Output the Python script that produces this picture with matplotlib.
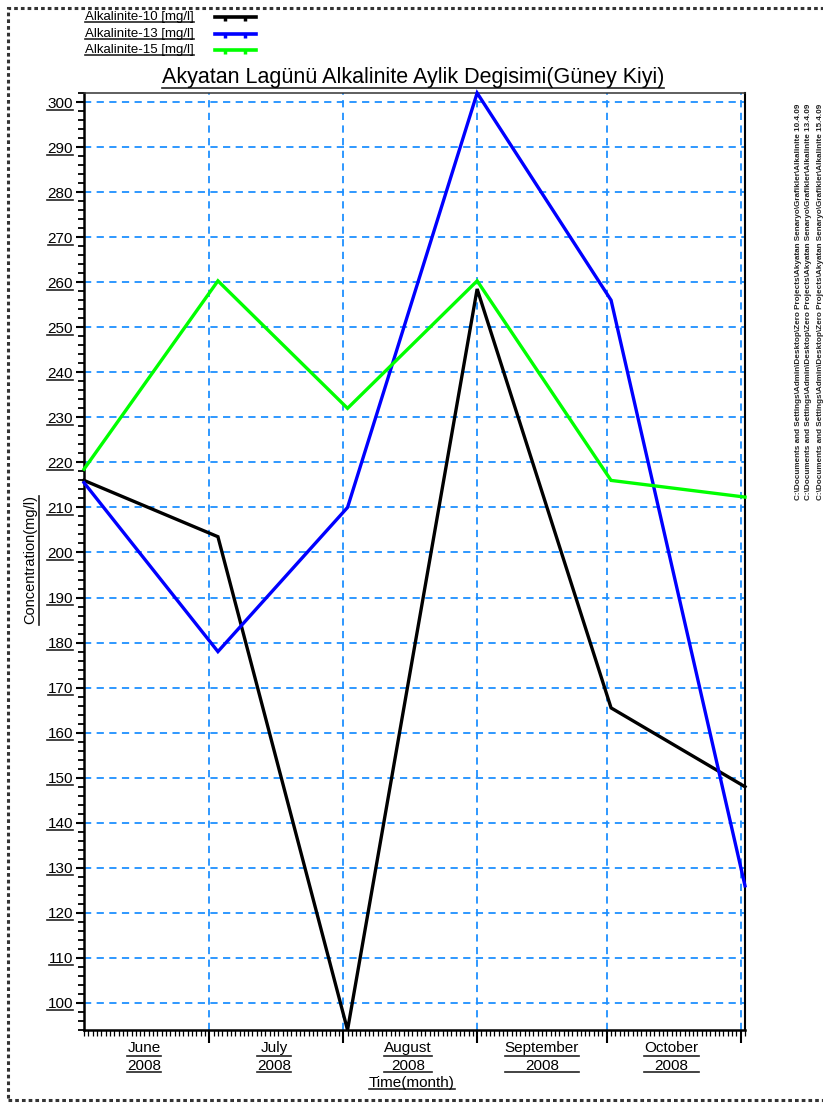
import matplotlib
matplotlib.use("Agg")
import matplotlib.pyplot as plt
import matplotlib.dates as mdates
from matplotlib.lines import Line2D
from matplotlib.patches import Rectangle
from matplotlib.ticker import MultipleLocator
import datetime as dt

plt.rcParams['font.family'] = ['Liberation Sans', 'DejaVu Sans']

# Sampling dates (one per month)
dates = [dt.date(2008, 6, 2), dt.date(2008, 7, 3), dt.date(2008, 8, 2),
         dt.date(2008, 9, 1), dt.date(2008, 10, 2), dt.date(2008, 11, 2)]

# Alkalinity at three stations (mg/l)
alk10 = [216, 203.5, 94, 258.5, 165.5, 148]
alk13 = [215.5, 178, 210, 302, 256, 126]
alk15 = [218.5, 260.3, 232, 260.3, 216, 212.3]

series_labels = ["Alkalinite-10 [mg/l]", "Alkalinite-13 [mg/l]", "Alkalinite-15 [mg/l]"]
series_colors = ["#000000", "#0000ff", "#00ff00"]

month_labels = ["June\n2008", "July\n2008", "August\n2008",
                "September\n2008", "October\n2008"]
month_centers = [dt.date(2008, 6, 16), dt.date(2008, 7, 16), dt.date(2008, 8, 16),
                 dt.date(2008, 9, 16), dt.date(2008, 10, 16)]
month_starts = [dt.date(2008, 7, 1), dt.date(2008, 8, 1), dt.date(2008, 9, 1),
                dt.date(2008, 10, 1), dt.date(2008, 11, 1)]

W, H = 823, 1106
fig = plt.figure(figsize=(W / 100, H / 100), dpi=100)
ax = fig.add_axes([84 / W, 1 - 1030 / H, (745 - 84) / W, (1030 - 93) / H])

for vals, col in zip([alk10, alk13, alk15], series_colors):
    ax.plot(dates, vals, color=col, lw=2.4, solid_joinstyle='miter', zorder=3, clip_on=False)

ax.set_xlim(dates[0], dates[-1])
ax.set_ylim(94, 302)

# y axis ticks
ax.yaxis.set_major_locator(MultipleLocator(10))
ax.yaxis.set_minor_locator(MultipleLocator(2))
ax.set_yticks(range(100, 301, 10))
ax.tick_params(axis='y', which='major', direction='out', length=6, width=1.5,
               labelsize=11, pad=2)
ax.tick_params(axis='y', which='minor', direction='out', length=4, width=1.3)

# x axis ticks: long ticks at month starts, daily minor ticks
ax.xaxis.set_major_locator(mdates.MonthLocator(bymonthday=1))
ax.xaxis.set_minor_locator(mdates.DayLocator())
ax.xaxis.set_major_formatter(plt.NullFormatter())
ax.tick_params(axis='x', which='major', direction='out', length=9, width=1.5)
ax.tick_params(axis='x', which='minor', direction='out', length=4, width=0.9)

# dashed blue grid
grid_kw = dict(color='#1e90ff', lw=1.3, ls=(0, (4, 3)), zorder=1)
for y in range(100, 301, 10):
    ax.axhline(y, **grid_kw)
for m in month_starts:
    ax.axvline(m, **grid_kw)

ax.spines['left'].set_linewidth(1.8)
ax.spines['bottom'].set_linewidth(1.8)
ax.spines['right'].set_linewidth(1.5)
ax.spines['top'].set_linewidth(1.1)
ax.spines['top'].set_color('#333333')

underlined = []

for lab, c in zip(month_labels, month_centers):
    t = ax.text(mdates.date2num(c), -0.012, lab, transform=ax.get_xaxis_transform(),
                ha='center', va='top', fontsize=11, linespacing=1.35)
    underlined.append(t)

xl = fig.text(412 / W, 1 - 1083 / H, "Time(month)", ha='center', va='center', fontsize=11)
yl = fig.text(30 / W, 1 - 560 / H, "Concentration(mg/l)", ha='center', va='center',
              rotation=90, fontsize=10.5)
title = fig.text(413 / W, 1 - 78 / H, "Akyatan Lagünü Alkalinite Aylik Degisimi(Güney Kiyi)",
                 ha='center', va='center', fontsize=15.5)
underlined += [xl, yl, title]

# legend at top left
for i, (lab, col) in enumerate(zip(series_labels, series_colors)):
    yy = 1 - (17 + 16.5 * i) / H
    t = fig.text(85 / W, yy, lab, ha='left', va='center', fontsize=9.5)
    underlined.append(t)
    fig.add_artist(Line2D([215 / W, 256 / W], [yy, yy], color=col, lw=2.6))
    fig.add_artist(Line2D([225 / W, 245 / W], [yy, yy], color=col, lw=0,
                          marker=3, markersize=3, markeredgewidth=2.5))

# file path note along the right edge
paths = [r"C:\Documents and Settings\Admin\Desktop\Zero Projects\Akyatan Senaryo\Grafikler\Alkalinite 10.4.09",
         r"C:\Documents and Settings\Admin\Desktop\Zero Projects\Akyatan Senaryo\Grafikler\Alkalinite 13.4.09",
         r"C:\Documents and Settings\Admin\Desktop\Zero Projects\Akyatan Senaryo\Grafikler\Alkalinite 15.4.09"]
for i, p in enumerate(paths):
    fig.text((798 + 11 * i) / W, 1 - 500 / H, p, rotation=90, ha='center', va='bottom',
             fontsize=5.9, fontweight='bold', color='#222222')

# page frame
fig.add_artist(Rectangle((8 / W, 6 / H), 1.2, 1 - 14 / H, transform=fig.transFigure,
                         fill=False, ec='#333333', lw=2.2, ls=(0, (1.2, 1.0))))

fig.canvas.draw()
renderer = fig.canvas.get_renderer()
underlined += [lab for lab in ax.get_yticklabels() if lab.get_text()]


def underline(txt):
    bb = txt.get_window_extent(renderer)
    rot = txt.get_rotation()
    if rot == 90:
        x = (bb.x1 + 1.5) / W
        fig.add_artist(Line2D([x, x], [bb.y0 / H, bb.y1 / H], color='#222222', lw=1.2))
    else:
        lines = txt.get_text().split("\n")
        n = len(lines)
        hline = bb.height / n
        for k in range(n):
            ybase = (bb.y1 - hline * (k + 1) + 1) / H
            fig.add_artist(Line2D([bb.x0 / W, bb.x1 / W], [ybase, ybase],
                                  color='#222222', lw=1.2))


for t in underlined:
    underline(t)

fig.savefig("out.png", dpi=100)
